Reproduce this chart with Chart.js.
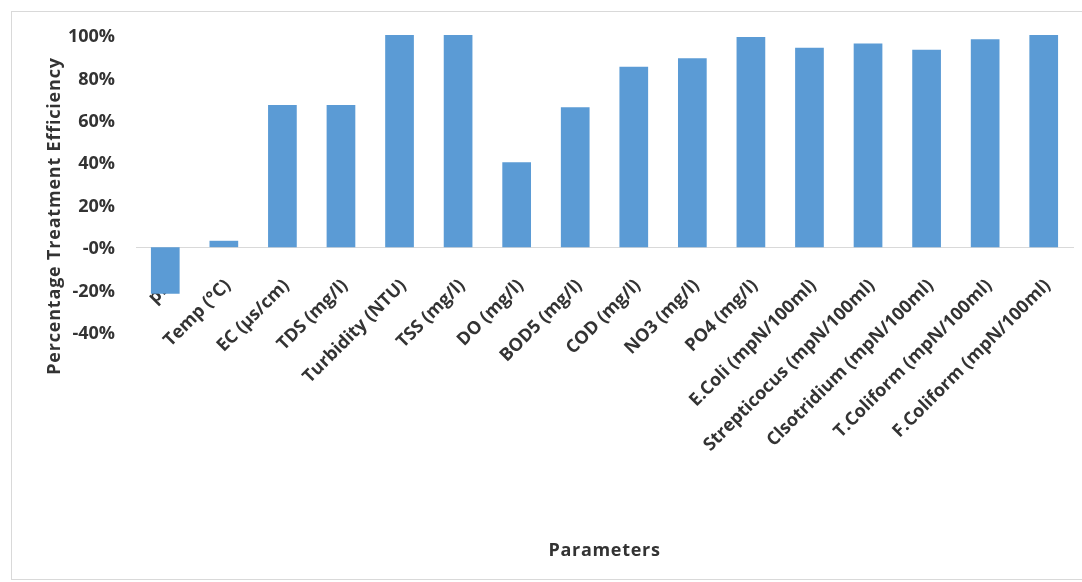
<!DOCTYPE html>
<html>
<head>
<meta charset="utf-8">
<script src="https://cdn.jsdelivr.net/npm/chart.js@4.4.1/dist/chart.umd.min.js"></script>
<style>
  html, body { margin: 0; padding: 0; background: #ffffff; }
  canvas { display: block; }
</style>
</head>
<body>
<canvas id="chart" width="1082" height="582"></canvas>
<script>
// Water quality parameters and their treatment efficiency (fraction of 1)
const parameters = [
  'pH', 'Temp (°C)', 'EC (µs/cm)', 'TDS (mg/l)', 'Turbidity (NTU)', 'TSS (mg/l)',
  'DO (mg/l)', 'BOD5 (mg/l)', 'COD (mg/l)', 'NO3 (mg/l)', 'PO4 (mg/l)',
  'E.Coli (mpN/100ml)', 'Strepticocus (mpN/100ml)', 'Clsotridium (mpN/100ml)',
  'T.Coliform (mpN/100ml)', 'F.Coliform (mpN/100ml)'
];
const efficiency = [
  -0.22, 0.03, 0.67, 0.67, 1.00, 1.00,
  0.40, 0.66, 0.85, 0.89, 0.99,
  0.94, 0.96, 0.93,
  0.98, 1.00
];
const yTickLabels = ['-40%', '-20%', '-0%', '20%', '40%', '60%', '80%', '100%'];

const xTitle = 'Parameters';
const yTitle = 'Percentage Treatment Efficiency';

const FONT = "'Open Sans', 'DejaVu Sans', sans-serif";
const TEXT = '#333333';
const BAR = '#5B9BD5';
const LINE = '#d9d9d9';

// Outer frame and axis titles
const frameAndTitles = {
  id: 'frameAndTitles',
  beforeDraw(chart) {
    const ctx = chart.ctx;
    ctx.save();
    ctx.fillStyle = '#ffffff';
    ctx.fillRect(0, 0, chart.width, chart.height);
    ctx.strokeStyle = LINE;
    ctx.lineWidth = 1;
    ctx.strokeRect(11.5, 11.5, chart.width, chart.height - 14);
    ctx.restore();
  },
  afterDraw(chart) {
    const ctx = chart.ctx;
    const area = chart.chartArea;
    ctx.save();
    ctx.fillStyle = TEXT;
    ctx.font = "bold 18px " + FONT;
    ctx.textAlign = 'center';
    ctx.textBaseline = 'middle';
    ctx.letterSpacing = '0.7px';
    ctx.fillText(xTitle, (area.left + area.right) / 2, 551);
    ctx.letterSpacing = '0.8px';
    ctx.translate(55, 216);
    ctx.rotate(-Math.PI / 2);
    ctx.fillText(yTitle, 0, 0);
    ctx.restore();
  }
};

new Chart(document.getElementById('chart'), {
  type: 'bar',
  data: {
    labels: parameters,
    datasets: [{
      data: efficiency,
      backgroundColor: BAR,
      borderWidth: 0,
      barPercentage: 0.49,
      categoryPercentage: 1.0
    }]
  },
  options: {
    responsive: false,
    animation: false,
    layout: { padding: { left: 0, top: 35, right: 9, bottom: 250 } },
    plugins: {
      legend: { display: false },
      tooltip: { enabled: false }
    },
    scales: {
      x: {
        type: 'category',
        position: { y: 0 },
        grid: { display: false },
        border: { display: true, color: LINE, width: 1 },
        ticks: {
          autoSkip: false,
          minRotation: 45,
          maxRotation: 45,
          padding: 20,
          labelOffset: 4,
          color: TEXT,
          font: { family: FONT, size: 18, weight: 'bold' }
        }
      },
      y: {
        min: -0.4,
        max: 1.0,
        grid: { display: false },
        border: { display: false },
        afterFit(scale) { scale.width = 136; },
        ticks: {
          stepSize: 0.2,
          padding: 13,
          labelOffset: 2,
          color: TEXT,
          font: { family: FONT, size: 18, weight: 'bold' },
          callback: (value, index) => yTickLabels[index]
        }
      }
    }
  },
  plugins: [frameAndTitles]
});
</script>
</body>
</html>
